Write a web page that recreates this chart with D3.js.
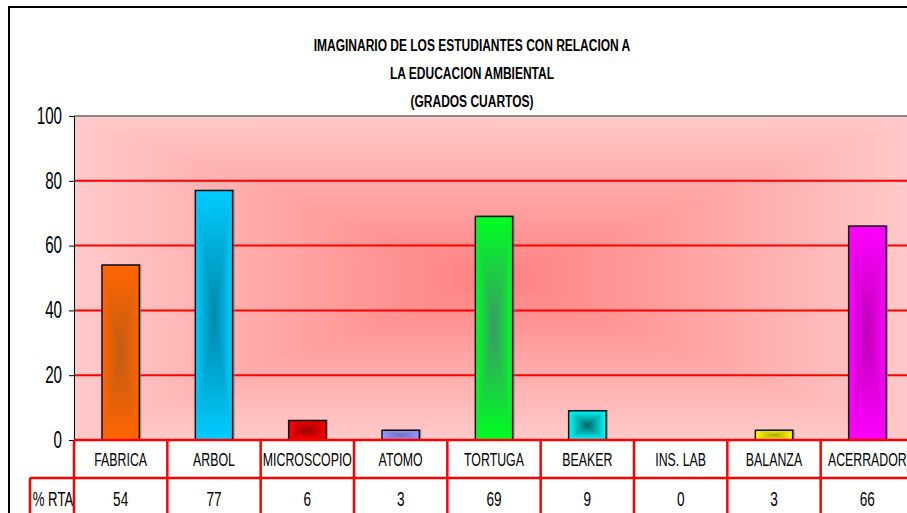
<!DOCTYPE html>
<html>
    <head>
        <title>Imaginario de los estudiantes</title>
        <meta charset="UTF-8">
        <style>
            body { margin: 0; background: white; }
            text
            {
                font-family: "Liberation Sans", Arial, sans-serif;
                fill: black;
            }
            .title { font-weight: bold; font-size: 16px; text-anchor: middle; }
            .cat { font-size: 19px; text-anchor: middle; }
            .val { font-size: 20px; text-anchor: middle; }
            .grid { stroke: #ff0000; stroke-width: 2; }
            .tbl { stroke: #ff0000; stroke-width: 2.5; }
        </style>
    </head>
    <body>
        <svg width="907" height="513">
            <defs id="defs"></defs>
            <g id="frame"></g>
            <g id="plot"></g>
            <g id="bars"></g>
            <g id="table"></g>
        </svg>
        <script src="https://cdn.jsdelivr.net/npm/d3@7"></script>
        <script>
            var categories = ["FABRICA", "ARBOL", "MICROSCOPIO", "ATOMO", "TORTUGA", "BEAKER", "INS. LAB", "BALANZA", "ACERRADOR"];
            var values = [54, 77, 6, 3, 69, 9, 0, 3, 66];
            var yTicks = [0, 20, 40, 60, 80, 100];
            var titleLines = ["IMAGINARIO DE LOS ESTUDIANTES CON RELACION A", "LA EDUCACION AMBIENTAL", "(GRADOS CUARTOS)"];
            var rowLabel = "% RTA";
            // bar colours: outer colour, centre colour (gradient from centre)
            var barEdge = ["#ff6600", "#00ccff", "#ff0000", "#9999ff", "#00ff22", "#00ffff", "#999999", "#ffff00", "#ff00ff"];
            var barMid = ["#c45a14", "#0088aa", "#990000", "#6f6fbb", "#3a9966", "#006666", "#666666", "#a8a800", "#c000b8"];

            var defs = d3.select("#defs");

            var x = d3.scaleBand().domain(categories).range([74, 914]);
            var y = d3.scaleLinear().domain([0, 100]).range([440, 116]);

            // narrow font is missing, so squeeze text horizontally
            function narrowText(parent, cls, tx, ty, sx, str)
            {
                return parent.append("text").attr("class", cls)
                    .attr("transform", "translate(" + tx + "," + ty + ") scale(" + sx + ",1)")
                    .text(str);
            }

            // "from centre" rectangle gradient: four triangles, each with its own linear gradient
            function makeGrads(id, edge, mid)
            {
                var dirs = {t: [0, 0, 0, 1], b: [0, 1, 0, 0], l: [0, 0, 1, 0], r: [1, 0, 0, 0]};
                Object.keys(dirs).forEach(function (k) {
                    var d = dirs[k];
                    var g = defs.append("linearGradient").attr("id", id + k)
                        .attr("x1", d[0]).attr("y1", d[1]).attr("x2", d[2]).attr("y2", d[3]);
                    g.append("stop").attr("offset", 0).attr("stop-color", edge);
                    g.append("stop").attr("offset", 1).attr("stop-color", mid);
                });
            }
            function rectGradient(parent, id, x0, y0, w, h)
            {
                var cx = x0 + w / 2, cy = y0 + h / 2, x1 = x0 + w, y1 = y0 + h;
                var tris = [
                    ["t", [[x0, y0], [x1, y0], [cx, cy]]],
                    ["b", [[x0, y1], [x1, y1], [cx, cy]]],
                    ["l", [[x0, y0], [x0, y1], [cx, cy]]],
                    ["r", [[x1, y0], [x1, y1], [cx, cy]]]
                ];
                tris.forEach(function (t) {
                    parent.append("polygon")
                        .attr("points", t[1].map(p => p.join(",")).join(" "))
                        .attr("fill", "url(#" + id + t[0] + ")")
                        .attr("stroke", "url(#" + id + t[0] + ")")
                        .attr("stroke-width", 0.6);
                });
            }

            // outer frame
            var frame = d3.select("#frame");
            frame.append("line").attr("x1", 9).attr("y1", 7).attr("x2", 907).attr("y2", 7).attr("stroke", "black").attr("stroke-width", 2);
            frame.append("line").attr("x1", 9).attr("y1", 6).attr("x2", 9).attr("y2", 513).attr("stroke", "black").attr("stroke-width", 2);

            titleLines.forEach(function (t, i) {
                narrowText(frame, "title", 472, 51 + i * 28, 0.75, t);
            });

            // plot background
            var plot = d3.select("#plot");
            makeGrads("bg", "#ffcaca", "#ff8080");
            rectGradient(plot, "bg", x.range()[0], y(100), x.range()[1] - x.range()[0], y(0) - y(100));

            plot.selectAll("line.grid").data(yTicks.filter(d => d > 0 && d < 100)).enter()
                .append("line").attr("class", "grid")
                .attr("x1", x.range()[0]).attr("x2", x.range()[1])
                .attr("y1", d => y(d)).attr("y2", d => y(d));
            plot.append("line")
                .attr("x1", x.range()[0]).attr("x2", x.range()[1])
                .attr("y1", y(100)).attr("y2", y(100))
                .attr("stroke", "#888").attr("stroke-width", 2);

            var yAxis = plot.append("g").attr("transform", "translate(74,0)")
                .call(d3.axisLeft(y).tickValues(yTicks).tickSize(5).tickPadding(12));
            yAxis.selectAll("text")
                .style("font-size", "23px")
                .style("font-family", "'Liberation Sans', Arial, sans-serif")
                .attr("x", -12 / 0.66)
                .attr("transform", "scale(0.66,1)");
            yAxis.selectAll("line, path").attr("stroke", "black");

            // bars
            var bars = d3.select("#bars");
            var bw = x.bandwidth() * 0.4;
            categories.forEach(function (c, i) {
                if (values[i] <= 0) return;
                var bx = x(c) + (x.bandwidth() - bw) / 2;
                var by = y(values[i]);
                var bh = y(0) - by;
                var g = bars.append("g");
                g.append("rect").attr("x", bx + 2).attr("y", by - 1).attr("width", bw).attr("height", bh)
                    .attr("fill", "#777").attr("opacity", 0.6);
                makeGrads("bar" + i, barEdge[i], barMid[i]);
                rectGradient(g, "bar" + i, bx, by, bw, bh);
                g.append("rect").attr("x", bx).attr("y", by).attr("width", bw).attr("height", bh)
                    .attr("fill", "none").attr("stroke", "#111").attr("stroke-width", 1.5);
            });

            // data table below the axis
            var table = d3.select("#table");
            var rowTop = y(0), rowMid = 478, rowBot = 520;
            table.append("rect").attr("x", 74).attr("y", rowTop).attr("width", 840).attr("height", rowMid - rowTop).attr("fill", "white");
            table.append("rect").attr("x", 30).attr("y", rowMid).attr("width", 884).attr("height", rowBot - rowMid).attr("fill", "white");

            categories.forEach(function (c, i) {
                narrowText(table, "cat", x(c) + x.bandwidth() / 2, 466, 0.65, c);
                narrowText(table, "val", x(c) + x.bandwidth() / 2, 506, 0.68, values[i]);
            });
            narrowText(table, "val", 53, 506, 0.66, rowLabel);

            table.append("line").attr("class", "tbl").attr("x1", 74).attr("x2", 914).attr("y1", rowTop).attr("y2", rowTop);
            table.append("line").attr("class", "tbl").attr("x1", 30).attr("x2", 914).attr("y1", rowMid).attr("y2", rowMid);
            table.append("line").attr("class", "tbl").attr("x1", 30).attr("x2", 30).attr("y1", rowMid).attr("y2", rowBot);
            table.selectAll("line.vert").data(categories.concat(["end"])).enter()
                .append("line").attr("class", "tbl vert")
                .attr("x1", d => d === "end" ? x.range()[1] : x(d))
                .attr("x2", d => d === "end" ? x.range()[1] : x(d))
                .attr("y1", rowTop).attr("y2", rowBot);
        </script>
    </body>
</html>
